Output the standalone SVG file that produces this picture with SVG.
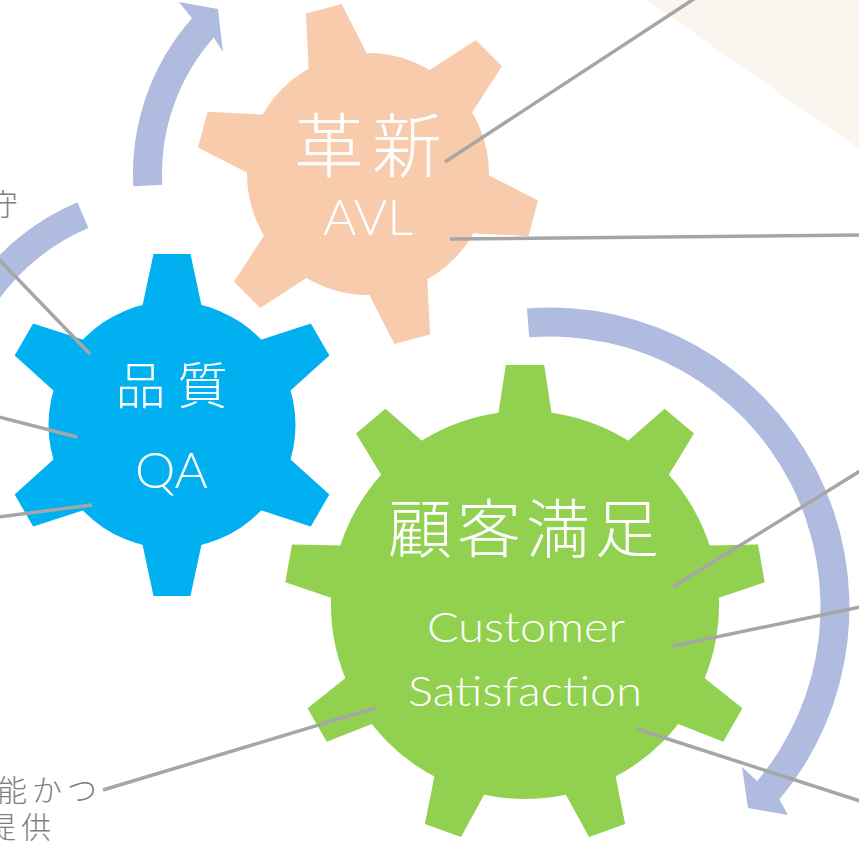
<svg xmlns="http://www.w3.org/2000/svg" xmlns:xlink="http://www.w3.org/1999/xlink" width="859" height="850" viewBox="0 0 859 850">
  <style>
    .cjk { font-family: "Noto Sans CJK JP", "Noto Sans CJK SC", sans-serif; font-weight: 300; fill: #ffffff; }
    .latin { font-family: Lato, "Open Sans", sans-serif; font-weight: 300; fill: #ffffff; }
    .note { font-family: "Noto Sans CJK JP", sans-serif; font-weight: 300; fill: #7f7f7f; font-size: 30px; }
    .link { stroke: #a6a6a6; stroke-width: 3.5; fill: none; }
    .cycle { fill: #afbcdf; }
    .gear-orange { fill: #f8cbad; }
    .gear-blue { fill: #00b0f0; }
    .gear-green { fill: #92d050; }
  </style>
  <defs>
    <!-- gear teeth, pointing along +x -->
    <polygon id="tooth-s" points="105,-32.6 171,-18.5 171,18.5 105,32.6"/>
    <polygon id="tooth-l" points="180,-28.4 240,-19.2 240,19.2 180,28.4"/>
  </defs>

  <rect width="859" height="850" fill="#ffffff"/>
  <polygon points="647,0 859,0 859,149" fill="#fbf5ef"/>

  <!-- cycle arrows -->
  <g id="cycle-arrows">
    <path class="cycle" d="M 133.3,186.3 A 235 235 0 0 1 192.0,18.3 L 179,2 L 218,9 L 223,52 L 213.7,37.5 A 206 206 0 0 0 162.3,184.8 Z"/>
    <path class="cycle" d="M 77.4,202.2 A 242 242 0 0 0 -69.1,403.9 L -41.2,406.3 A 214 214 0 0 1 88.4,228.0 Z"/>
    <path class="cycle" d="M 527.0,308.4 A 299.5 299.5 0 0 1 779.4,799.5 L 788,815 L 748,808 L 742,767 L 757.2,780.9 A 270.5 270.5 0 0 0 529.2,337.3 Z"/>
  </g>

  <!-- innovation gear -->
  <g id="gear-innovation">
    <g class="gear-orange" transform="translate(368,174)">
      <circle r="121"/>
      <use xlink:href="#tooth-s" transform="rotate(15)"/>
      <use xlink:href="#tooth-s" transform="rotate(75)"/>
      <use xlink:href="#tooth-s" transform="rotate(135)"/>
      <use xlink:href="#tooth-s" transform="rotate(195)"/>
      <use xlink:href="#tooth-s" transform="rotate(255)"/>
      <use xlink:href="#tooth-s" transform="rotate(315)"/>
    </g>
    <text class="cjk" x="294" y="172" font-size="70" letter-spacing="8">革新</text>
    <text class="latin" x="323" y="235" font-size="49" textLength="90" lengthAdjust="spacingAndGlyphs">AVL</text>
  </g>

  <!-- quality gear -->
  <g id="gear-quality">
    <g class="gear-blue" transform="translate(172,425)">
      <circle r="123.5"/>
      <use xlink:href="#tooth-s" transform="rotate(-90)"/>
      <use xlink:href="#tooth-s" transform="rotate(-30)"/>
      <use xlink:href="#tooth-s" transform="rotate(30)"/>
      <use xlink:href="#tooth-s" transform="rotate(90)"/>
      <use xlink:href="#tooth-s" transform="rotate(150)"/>
      <use xlink:href="#tooth-s" transform="rotate(210)"/>
    </g>
    <text class="cjk" x="115.5" y="403.5" font-size="50" letter-spacing="12">品質</text>
    <text class="latin" x="135" y="488" font-size="49" textLength="73" lengthAdjust="spacingAndGlyphs">QA</text>
  </g>

  <!-- customer satisfaction gear -->
  <g id="gear-customer">
    <g class="gear-green" transform="translate(525,605)">
      <circle r="194"/>
      <use xlink:href="#tooth-l" transform="rotate(-90)"/>
      <use xlink:href="#tooth-l" transform="rotate(-50)"/>
      <use xlink:href="#tooth-l" transform="rotate(-10)"/>
      <use xlink:href="#tooth-l" transform="rotate(30)"/>
      <use xlink:href="#tooth-l" transform="rotate(70)"/>
      <use xlink:href="#tooth-l" transform="rotate(110)"/>
      <use xlink:href="#tooth-l" transform="rotate(150)"/>
      <use xlink:href="#tooth-l" transform="rotate(190)"/>
      <use xlink:href="#tooth-l" transform="rotate(230)"/>
    </g>
    <text class="cjk" x="388" y="552" font-size="64" letter-spacing="5">顧客満足</text>
    <text class="latin" x="427" y="642" font-size="41" textLength="198" lengthAdjust="spacingAndGlyphs">Customer</text>
    <text class="latin" x="408" y="706" font-size="41" textLength="234" lengthAdjust="spacingAndGlyphs">Satisfaction</text>
  </g>

  <!-- side notes -->
  <g id="notes">
    <text class="note" x="-12" y="215" font-size="32">守</text>
    <text class="note" x="-3" y="801" letter-spacing="5">能かつ</text>
    <text class="note" x="-14" y="838" letter-spacing="5">提供</text>
  </g>

  <!-- leader lines -->
  <g id="connectors">
    <line class="link" x1="445" y1="162" x2="700" y2="-5"/>
    <line class="link" x1="450" y1="239" x2="860" y2="235"/>
    <line class="link" x1="90" y1="354" x2="-10" y2="250"/>
    <line class="link" x1="77" y1="437" x2="-5" y2="416"/>
    <line class="link" x1="92" y1="505" x2="-5" y2="517.5"/>
    <line class="link" x1="673" y1="587" x2="860" y2="471"/>
    <line class="link" x1="673" y1="646" x2="860" y2="607"/>
    <line class="link" x1="637" y1="729" x2="860" y2="801"/>
    <line class="link" x1="375" y1="708" x2="103" y2="790"/>
  </g>
</svg>
